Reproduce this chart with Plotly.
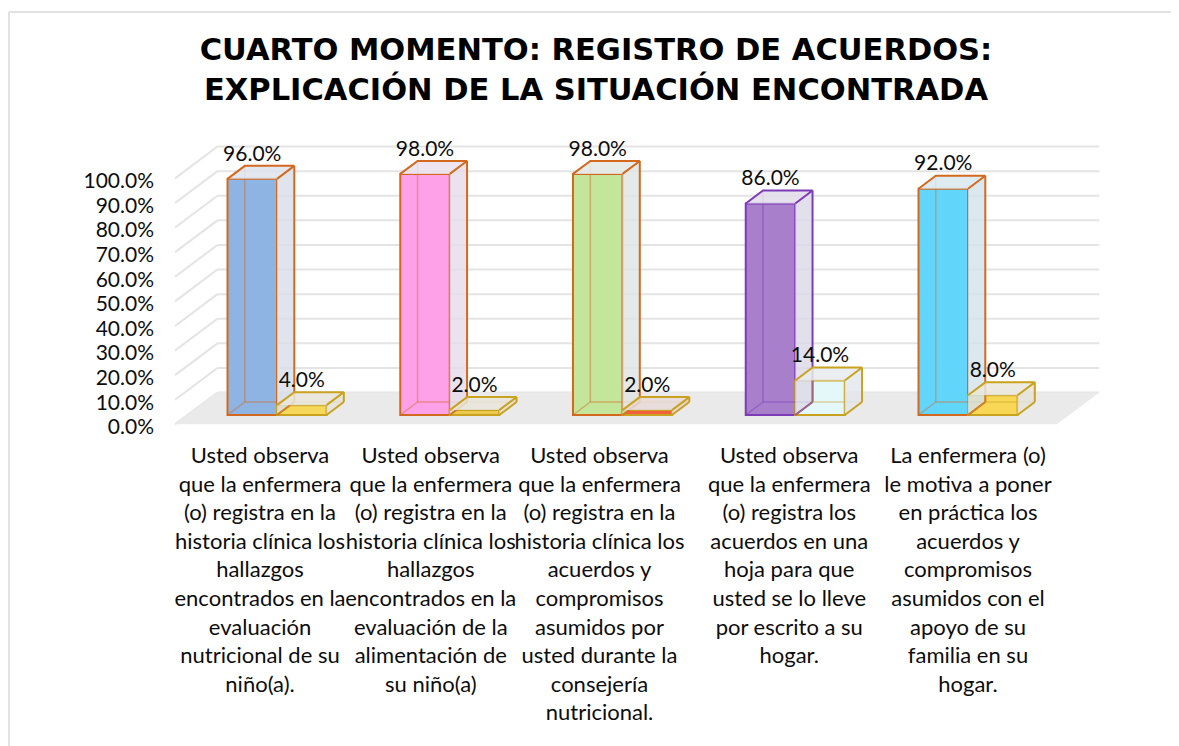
import plotly.graph_objects as go

# ---------------- data ----------------
categories = [
    "Usted observa<br>que la enfermera<br>(o) registra en la<br>historia clínica los<br>hallazgos<br>encontrados en la<br>evaluación<br>nutricional de su<br>niño(a).",
    "Usted observa<br>que la enfermera<br>(o) registra en la<br>historia clínica los<br>hallazgos<br>encontrados en la<br>evaluación de la<br>alimentación de<br>su niño(a)",
    "Usted observa<br>que la enfermera<br>(o) registra en la<br>historia clínica los<br>acuerdos y<br>compromisos<br>asumidos por<br>usted durante la<br>consejería<br>nutricional.",
    "Usted observa<br>que la enfermera<br>(o) registra los<br>acuerdos en una<br>hoja para que<br>usted se lo lleve<br>por escrito a su<br>hogar.",
    "La enfermera (o)<br>le motiva a poner<br>en práctica los<br>acuerdos y<br>compromisos<br>asumidos con el<br>apoyo de su<br>familia en su<br>hogar.",
]
series_a = [96.0, 98.0, 98.0, 86.0, 92.0]
series_b = [4.0, 2.0, 2.0, 14.0, 8.0]
tick_values = [0, 10, 20, 30, 40, 50, 60, 70, 80, 90, 100]
tick_labels = ["0.0%", "10.0%", "20.0%", "30.0%", "40.0%", "50.0%",
               "60.0%", "70.0%", "80.0%", "90.0%", "100.0%"]
title_lines = ["CUARTO MOMENTO: REGISTRO DE ACUERDOS:",
               "EXPLICACIÓN DE LA SITUACIÓN ENCONTRADA"]

# ---------------- styles ----------------
fill_a = ["#8EB4E3", "#FFA1E8", "#C3E69B", "#A77FCB", "#62D6FA"]
line_a = ["#D3691F", "#D3691F", "#D3691F", "#7E3BB8", "#D3691F"]
fill_b = ["#F8D85A", "#EDC94B", "#F2603C", "#E4F8FA", "#F8D757"]
line_b = ["#C9A21F"] * 5
label_nudge_px = [-2, -4, -8, 9, 15]   # horizontal nudge of category labels

W, H = 1179, 746
PAGE_OFF = 8                      # default page margin of the html body
M_L = 158 - PAGE_OFF
M_T = 120 - PAGE_OFF
M_R = W - (1110 - PAGE_OFF)
M_B = H - (440 - PAGE_OFF)
X_RANGE = [-0.6889, 4.822]
Y_RANGE = [-10.163, 119.92]
PX_PER_X = (W - M_L - M_R) / (X_RANGE[1] - X_RANGE[0])
BAR_W = 0.2866          # width of one box (data units)
DX, DY = 0.1001, 5.28   # projection of one depth unit
Z_FRONT, Z_BACK = -0.72, 1.73
FLOOR_X = (-0.518, 4.587)
LABEL_SHIFT = -1.0
FONT = "Lato"
TXT = "#0D0D0D"


def hex_rgb(h):
    h = h.lstrip("#")
    return tuple(int(h[i:i + 2], 16) for i in (0, 2, 4))


def blend(h, base, t, alpha):
    r, g, b = hex_rgb(h)
    br, bg, bb = base
    return "rgba(%d,%d,%d,%.2f)" % (round(r * t + br * (1 - t)),
                                     round(g * t + bg * (1 - t)),
                                     round(b * t + bb * (1 - t)), alpha)


def rgba(h, a):
    r, g, b = hex_rgb(h)
    return "rgba(%d,%d,%d,%.2f)" % (r, g, b, a)


fig = go.Figure()

# front faces as real bars
for vals, fills, lines, off in [(series_a, fill_a, line_a, -BAR_W),
                                (series_b, fill_b, line_b, 0.0)]:
    fig.add_trace(go.Bar(
        x=list(range(len(vals))), y=vals, width=BAR_W, offset=off,
        marker=dict(color=fills, line=dict(color=lines, width=2)),
        showlegend=False, hoverinfo="skip"))


def poly(xs, ys, fill):
    fig.add_trace(go.Scatter(
        x=xs, y=ys, mode="none", fill="toself", fillcolor=fill,
        showlegend=False, hoverinfo="skip"))


def seg(xs, ys, color, lw):
    fig.add_trace(go.Scatter(x=xs, y=ys, mode="lines",
                             line=dict(color=color, width=lw),
                             showlegend=False, hoverinfo="skip"))


# 3D box faces and edges derived from the values
for i in range(len(categories)):
    for vals, fills, lines, off in [(series_a, fill_a, line_a, -BAR_W),
                                    (series_b, fill_b, line_b, 0.0)]:
        v = vals[i]
        xl = i + off
        xr = xl + BAR_W
        lc = lines[i]
        # hidden (seen-through) edges
        seg([xl + DX, xl + DX, None, xl + DX, xr + DX, None, xl, xl + DX],
            [DY, v + DY, None, DY, DY, None, 0, DY], rgba(lc, 0.45), 1.5)
        # right side face
        poly([xr, xr, xr + DX, xr + DX, xr], [0, v, v + DY, DY, 0],
             blend(fills[i], (226, 228, 234), 0.12, 0.80))
        # top face
        poly([xl, xr, xr + DX, xl + DX, xl], [v, v, v + DY, v + DY, v],
             blend(fills[i], (232, 233, 238), 0.12, 0.85))
        # visible edges
        seg([xl, xl + DX, xr + DX, xr, None, xr + DX, xr + DX, None, xr, xr + DX],
            [v, v + DY, v + DY, v, None, v + DY, DY, None, 0, DY], lc, 2)

# data labels
for vals, off in [(series_a, -BAR_W), (series_b, 0.0)]:
    fig.add_trace(go.Scatter(
        x=[i + off + BAR_W / 2 for i in range(len(vals))],
        y=[v + DY for v in vals],
        mode="text", text=["%.1f%%" % v for v in vals],
        textposition="top center", cliponaxis=False,
        textfont=dict(family=FONT, size=21, color=TXT),
        showlegend=False, hoverinfo="skip"))

# walls, gridlines, floor (decoration below traces)
shapes = []
xa, xb = FLOOR_X
for t in tick_values:
    shapes.append(dict(type="line", xref="x", yref="y", layer="below",
                       x0=xa + Z_BACK * DX, x1=xb + Z_BACK * DX,
                       y0=t + Z_BACK * DY, y1=t + Z_BACK * DY,
                       line=dict(color="#E4E4E4", width=2)))
    shapes.append(dict(type="line", xref="x", yref="y", layer="below",
                       x0=xa + Z_FRONT * DX, x1=xa + Z_BACK * DX,
                       y0=t + Z_FRONT * DY, y1=t + Z_BACK * DY,
                       line=dict(color="#E4E4E4", width=2)))
floor_pts = [(xa + Z_FRONT * DX, Z_FRONT * DY), (xb + Z_FRONT * DX, Z_FRONT * DY),
             (xb + Z_BACK * DX, Z_BACK * DY), (xa + Z_BACK * DX, Z_BACK * DY)]
shapes.append(dict(type="path", xref="x", yref="y", layer="below",
                   path="M " + " L ".join("%f,%f" % p for p in floor_pts) + " Z",
                   fillcolor="#EAEAEA", line=dict(width=0)))

# chart border (left and top edges visible)
pw = W - M_L - M_R
ph = H - M_T - M_B
bx = (9 - PAGE_OFF - M_L) / pw
by = (H - M_B - (12 - PAGE_OFF)) / ph
shapes.append(dict(type="line", xref="paper", yref="paper", x0=bx, x1=bx,
                   y0=by, y1=-1.2, line=dict(color="#D9D9D9", width=1.5)))
shapes.append(dict(type="line", xref="paper", yref="paper", x0=bx, x1=1.2,
                   y0=by, y1=by, line=dict(color="#D9D9D9", width=1.5)))

fig.update_layout(
    width=W, height=H,
    margin=dict(l=M_L, r=M_R, t=M_T, b=M_B),
    paper_bgcolor="white", plot_bgcolor="rgba(0,0,0,0)",
    barmode="overlay",
    shapes=shapes,
    title=dict(text="<b>" + "<br>".join(title_lines) + "</b>",
               x=(596 - PAGE_OFF) / W, xanchor="center",
               y=1 - (60 - PAGE_OFF) / H, yanchor="middle", yref="container",
               font=dict(family="DejaVu Sans", size=30.5, color="#000000")),
    xaxis=dict(range=X_RANGE,
               tickvals=[i + label_nudge_px[i] / PX_PER_X for i in range(len(categories))],
               ticktext=categories, showgrid=False, zeroline=False,
               showline=False, ticks="", ticklabelshift=-15, tickangle=0,
               tickfont=dict(family=FONT, size=22, color=TXT)),
    yaxis=dict(range=Y_RANGE,
               tickvals=[t + Z_FRONT * DY + LABEL_SHIFT for t in tick_values],
               ticktext=tick_labels, showgrid=False, zeroline=False,
               showline=False, ticks="", ticklabelstandoff=3,
               tickfont=dict(family=FONT, size=21, color=TXT)),
)

fig.write_html("out.html")
